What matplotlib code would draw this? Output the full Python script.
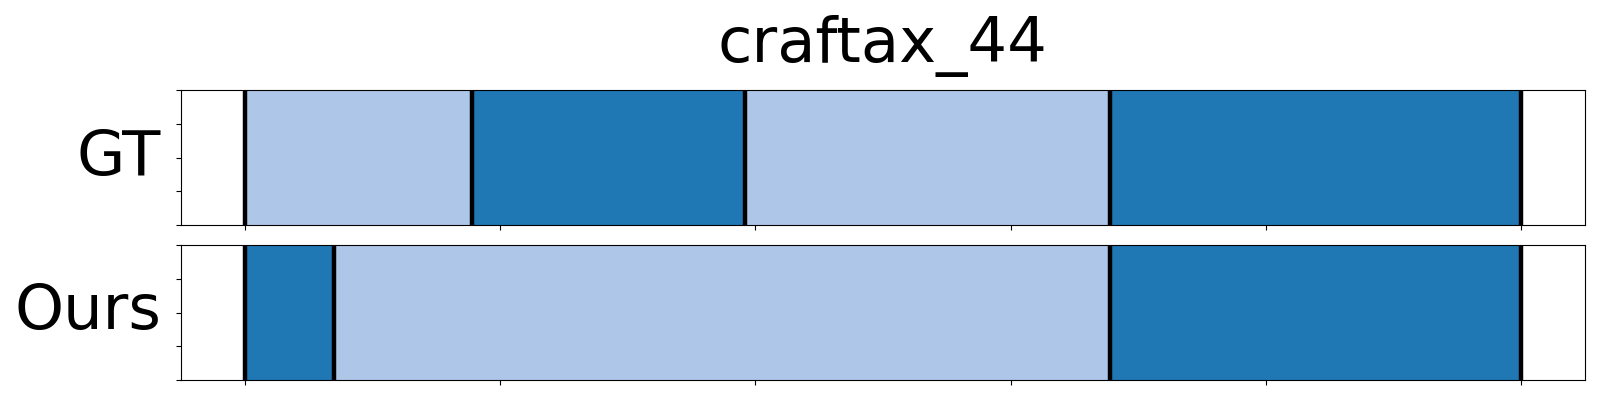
import matplotlib
matplotlib.use('Agg')
import matplotlib.pyplot as plt
import numpy as np

title = 'craftax_44'
rows = ['GT', 'Ours']
# segment boundaries (frame index) and segment class per row
gt_bounds = [0, 89, 196, 339, 500]
gt_classes = [1, 0, 1, 0]
ours_bounds = [0, 35, 339, 500]
ours_classes = [0, 1, 0]
n_frames = 500

colors = {0: '#1f77b4', 1: '#aec7e8'}

fig = plt.figure(figsize=(16, 4), dpi=100)
ax1 = fig.add_axes([0.113, 0.4375, 0.8776, 0.3375])
ax2 = fig.add_axes([0.113, 0.05, 0.8776, 0.3375])

for ax, name, bounds, classes in [(ax1, rows[0], gt_bounds, gt_classes),
                                  (ax2, rows[1], ours_bounds, ours_classes)]:
    for i, c in enumerate(classes):
        ax.axvspan(bounds[i], bounds[i + 1], color=colors[c], lw=0)
    for b in bounds:
        ax.axvline(b, color='black', lw=3.2)
    ax.set_xlim(-0.05 * n_frames, 1.05 * n_frames)
    ax.set_ylim(0, 1)
    ax.set_xticks(np.arange(0, n_frames + 1, 100))
    ax.set_yticks(np.linspace(0, 1, 5))
    ax.set_xticklabels([])
    ax.set_yticklabels([])
    ax.set_ylabel(name, fontsize=45, rotation=0, ha='right', va='center', labelpad=7)

ax1.set_title(title, fontsize=45, pad=20)

fig.savefig('out.png', dpi=100)
